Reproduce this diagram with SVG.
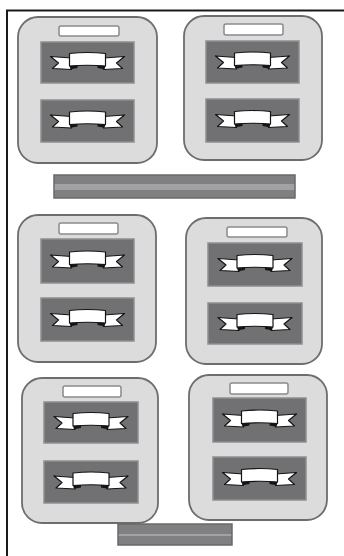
<svg xmlns="http://www.w3.org/2000/svg" xmlns:xlink="http://www.w3.org/1999/xlink" width="344" height="556" viewBox="0 0 344 556">
<style>
.card{fill:#dcdcdd;stroke:#6d6d6f;stroke-width:1.8}
.label{fill:#ffffff;stroke:#8a8a8c;stroke-width:1.5}
.panel{fill:#717173;stroke:#8f8f91;stroke-width:1.5}
.bar{fill:#808082;stroke:#69696b;stroke-width:1.5}
.stripe{fill:#a2a2a4}
.rib{fill:#ffffff;stroke:#141414;stroke-width:1.2;stroke-linejoin:round}
.fold{fill:#141414}
.frame{stroke:#1a1a1a;stroke-width:2;fill:none}
</style>
<defs>
<g id="banner">
<polygon class="rib" points="-37,-6 -16,-4.5 -16,7 -35,6 -29,0.5"/>
<polygon class="rib" points="37,-6 16,-4.5 16,7 35,6 29,0.5"/>
<path class="rib" d="M-18,-9 Q0,-11 18,-9 L18,3.5 Q0,2 -18,3.5 Z"/>
<polygon class="fold" points="-18,3.5 -10,3 -10,5.5 -17,6.8"/>
<polygon class="fold" points="10,3 18,3.5 17,6.8 10,5.5"/>
</g>
</defs>
<rect width="344" height="556" fill="#ffffff"/>
<g id="frame">
<line class="frame" x1="6" y1="10.5" x2="344" y2="10.5"/>
<line class="frame" x1="7" y1="10" x2="7" y2="556"/>
</g>
<g id="card1">
<rect class="card" x="18" y="17" width="139" height="146" rx="20"/>
<rect class="label" x="59" y="26" width="60" height="10" rx="2"/>
<rect class="panel" x="41" y="42" width="93" height="41"/>
<use xlink:href="#banner" x="87.5" y="62.5"/>
<rect class="panel" x="41" y="100" width="93" height="42"/>
<use xlink:href="#banner" x="87.5" y="121"/>
</g>
<g id="card2">
<rect class="card" x="184" y="16" width="138" height="144" rx="20"/>
<rect class="label" x="224" y="24" width="59" height="11" rx="2"/>
<rect class="panel" x="206" y="41" width="93" height="42"/>
<use xlink:href="#banner" x="252.5" y="62"/>
<rect class="panel" x="206" y="99" width="93" height="43"/>
<use xlink:href="#banner" x="252.5" y="120.5"/>
</g>
<g id="bar1">
<rect class="bar" x="54" y="175" width="241" height="23"/>
<rect class="stripe" x="54.8" y="184" width="239.4" height="6"/>
</g>
<g id="card3">
<rect class="card" x="18" y="215" width="138" height="147" rx="20"/>
<rect class="label" x="59" y="223" width="59" height="11" rx="2"/>
<rect class="panel" x="41" y="239" width="93" height="44"/>
<use xlink:href="#banner" x="87.5" y="261"/>
<rect class="panel" x="41" y="298" width="93" height="43"/>
<use xlink:href="#banner" x="87.5" y="319.5"/>
</g>
<g id="card4">
<rect class="card" x="186" y="218" width="136" height="146" rx="20"/>
<rect class="label" x="227" y="227" width="60" height="10" rx="2"/>
<rect class="panel" x="208" y="243" width="94" height="43"/>
<use xlink:href="#banner" x="255" y="264.5"/>
<rect class="panel" x="208" y="303" width="94" height="41"/>
<use xlink:href="#banner" x="255" y="323.5"/>
</g>
<g id="card5">
<rect class="card" x="22" y="378" width="136" height="145" rx="20"/>
<rect class="label" x="63" y="386" width="58" height="11" rx="2"/>
<rect class="panel" x="44" y="402" width="94" height="41"/>
<use xlink:href="#banner" x="91" y="422.5"/>
<rect class="panel" x="44" y="461" width="94" height="42"/>
<use xlink:href="#banner" x="91" y="482"/>
</g>
<g id="card6">
<rect class="card" x="189" y="375" width="138" height="145" rx="20"/>
<rect class="label" x="230" y="383" width="58" height="11" rx="2"/>
<rect class="panel" x="213" y="398" width="93" height="44"/>
<use xlink:href="#banner" x="259.5" y="420"/>
<rect class="panel" x="213" y="457" width="93" height="43"/>
<use xlink:href="#banner" x="259.5" y="478.5"/>
</g>
<g id="bar2">
<rect class="bar" x="118" y="524" width="114" height="21"/>
<rect class="stripe" x="118.8" y="534" width="112.4" height="2"/>
</g>
<g id="connectors"></g>
</svg>
